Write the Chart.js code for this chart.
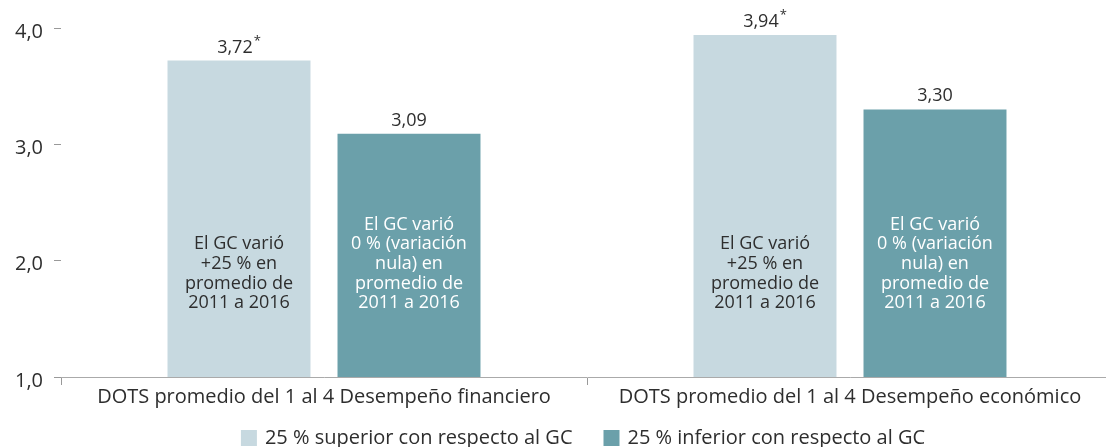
<!DOCTYPE html>
<html><head><meta charset="utf-8">
<script src="https://cdn.jsdelivr.net/npm/chart.js@4"></script>
<style>
html,body{margin:0;padding:0;background:#fff;overflow:hidden;width:1106px;height:447px}
#wrap{position:relative;width:1113px;height:447px}
</style></head><body>
<div id="wrap"><canvas id="c" width="1113" height="447"></canvas></div>
<script>
const categories = ['DOTS promedio del 1 al 4 Desempeño financiero', 'DOTS promedio del 1 al 4 Desempeño económico'];
const seriesNames = ['25 % superior con respecto al GC', '25 % inferior con respecto al GC'];
const superiorValues = [3.72, 3.94];
const inferiorValues = [3.09, 3.30];
const superiorSignificant = [true, true];
const inferiorSignificant = [false, false];
const superiorNote = ['El GC varió', '+25 % en', 'promedio de', '2011 a 2016'];
const inferiorNote = ['El GC varió', '0 % (variación', 'nula) en', 'promedio de', '2011 a 2016'];
const yTicks = [1, 2, 3, 4];

const FONT = "'Open Sans', sans-serif";
const TEXT = '#2e2e2e';
Chart.defaults.font.family = FONT;
Chart.defaults.color = TEXT;

const fmt = (v, d) => v.toFixed(d).replace('.', ',');

const barTextPlugin = {
  id: 'barText',
  afterDatasetsDraw(chart) {
    const ctx = chart.ctx;
    const area = chart.chartArea;
    chart.data.datasets.forEach((ds, di) => {
      const meta = chart.getDatasetMeta(di);
      meta.data.forEach((bar, i) => {
        ctx.save();
        const txt = fmt(ds.data[i], 2);
        ctx.font = `18px ${FONT}`;
        const w = ctx.measureText(txt).width;
        const star = ds.significant[i];
        ctx.font = `13px ${FONT}`;
        const sw = star ? ctx.measureText('*').width + 1 : 0;
        const x0 = bar.x - (w + sw) / 2;
        ctx.fillStyle = TEXT;
        ctx.textAlign = 'left';
        ctx.textBaseline = 'alphabetic';
        ctx.font = `18px ${FONT}`;
        ctx.fillText(txt, x0, bar.y - 8);
        if (star) {
          ctx.font = `13px ${FONT}`;
          ctx.fillText('*', x0 + w + 1, bar.y - 16);
        }
        const lines = ds.note;
        ctx.font = `18px ${FONT}`;
        ctx.textAlign = 'center';
        ctx.textBaseline = 'middle';
        ctx.fillStyle = ds.noteColor;
        const lastY = area.bottom - 74;
        const lh = 19.6;
        lines.forEach((ln, k) => ctx.fillText(ln, bar.x, lastY - (lines.length - 1 - k) * lh));
        ctx.restore();
      });
    });
  }
};

const LEGEND_CX = 583;
const legendPlugin = {
  id: 'customLegend',
  afterDraw(chart) {
    const ctx = chart.ctx;
    const items = chart.data.datasets.map(d => ({ text: d.label, color: d.backgroundColor }));
    ctx.save();
    ctx.font = `20px ${FONT}`;
    const box = 16, gapText = 8, gapItem = 31;
    const widths = items.map(it => box + gapText + ctx.measureText(it.text).width);
    const total = widths.reduce((a, b) => a + b, 0) + gapItem * (items.length - 1);
    let x = LEGEND_CX - total / 2;
    const yTop = 430;
    items.forEach((it, k) => {
      ctx.fillStyle = it.color;
      ctx.fillRect(x, yTop, box, box);
      ctx.fillStyle = TEXT;
      ctx.textAlign = 'left';
      ctx.textBaseline = 'middle';
      ctx.fillText(it.text, x + box + gapText, yTop + box / 2);
      x += widths[k] + gapItem;
    });
    ctx.restore();
  }
};

new Chart(document.getElementById('c'), {
  type: 'bar',
  data: {
    labels: categories,
    datasets: [
      { label: seriesNames[0], data: superiorValues, backgroundColor: '#c7d9e0', significant: superiorSignificant, note: superiorNote, noteColor: TEXT,
        categoryPercentage: 0.6464, barPercentage: 0.841 },
      { label: seriesNames[1], data: inferiorValues, backgroundColor: '#6ba0aa', significant: inferiorSignificant, note: inferiorNote, noteColor: '#ffffff',
        categoryPercentage: 0.6464, barPercentage: 0.841 }
    ]
  },
  options: {
    responsive: false,
    animation: false,
    layout: { padding: { top: 28, right: 0, bottom: 0, left: 0 } },
    plugins: { legend: { display: false }, tooltip: { enabled: false } },
    scales: {
      x: {
        grid: { display: true, drawOnChartArea: false, offset: true, tickLength: 8, color: '#999999' },
        border: { display: true, color: '#aaaaaa', width: 1 },
        ticks: { color: TEXT, font: { size: 20 }, padding: 0, maxRotation: 0 },
        afterFit: s => { s.height = 70; }
      },
      y: {
        min: 1, max: 4,
        afterBuildTicks: s => { s.ticks = yTicks.map(v => ({ value: v })); },
        grid: { drawOnChartArea: false, tickLength: 7, color: '#999999' },
        border: { display: false },
        ticks: { color: TEXT, font: { size: 20 }, padding: 11, labelOffset: 4, callback: v => fmt(v, 1) },
        afterFit: s => { s.width = 61; }
      }
    }
  },
  plugins: [barTextPlugin, legendPlugin]
});
</script>
</body></html>
